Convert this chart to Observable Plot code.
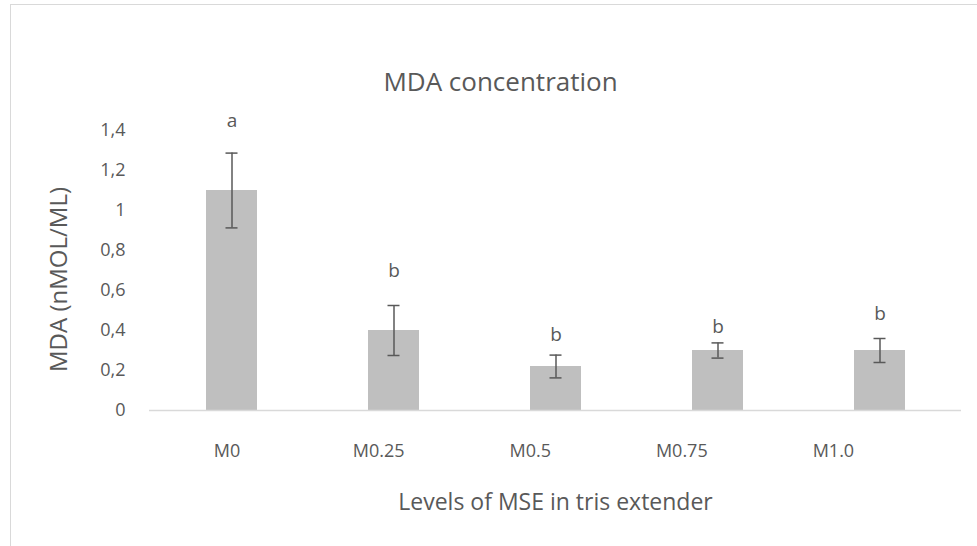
<!DOCTYPE html>
<html><head><meta charset="utf-8">
<script src="https://cdn.jsdelivr.net/npm/d3@7"></script>
<script src="https://cdn.jsdelivr.net/npm/@observablehq/plot@0.6"></script>
<style>
body{margin:0;background:#fff;}
#wrap{position:relative;width:977px;height:546px;overflow:hidden;background:#fff;}
#border{position:absolute;left:10px;top:4px;width:1000px;height:600px;border:1px solid #d9d9d9;}
#chart{position:absolute;left:0;top:0;}
</style></head><body>
<div id="wrap"><div id="border"></div><div id="chart"></div></div>
<script>
const categories = ["M0", "M0.25", "M0.5", "M0.75", "M1.0"];
const means = [1.10, 0.40, 0.22, 0.30, 0.30];
const errors = [0.187, 0.125, 0.057, 0.038, 0.060];
const letters = ["a", "b", "b", "b", "b"];
const letterY = [1.447, 0.70, 0.38, 0.42, 0.485];
const yTicks = [0, 0.2, 0.4, 0.6, 0.8, 1, 1.2, 1.4];
const titleText = "MDA concentration";
const xLabel = "Levels of MSE in tris extender";
const yLabel = "MDA (nMOL/ML)";

const rows = categories.map((c, i) => ({cat: c, mean: means[i], err: errors[i], letter: letters[i], ly: letterY[i]}));
const textColor = "#595959";

const xLabelMarks = categories.map((c, i) =>
  Plot.text([c], {x: d => d, frameAnchor: "bottom", lineAnchor: "middle", dy: 41, dx: -5 - 10.4 * i, fill: textColor, fontSize: 18})
);

const chart = Plot.plot({
  width: 977,
  height: 546,
  marginLeft: 149,
  marginRight: 16,
  marginTop: 130,
  marginBottom: 136,
  style: {fontFamily: "'Open Sans', sans-serif", fontSize: "18px", background: "transparent", color: textColor},
  x: {type: "band", domain: categories, paddingInner: 0.686, paddingOuter: 0.343, axis: null},
  y: {domain: [0, 1.4], axis: null},
  marks: [
    Plot.barY(rows, {x: "cat", y: "mean", fill: "#bfbfbf"}),
    Plot.ruleY([0], {stroke: "#d9d9d9", strokeWidth: 1.5}),
    Plot.ruleX(rows, {x: "cat", y1: d => d.mean - d.err, y2: d => d.mean + d.err, stroke: "#595959", strokeWidth: 1.5}),
    Plot.tickY(rows, {x: "cat", y: d => d.mean - d.err, stroke: "#595959", strokeWidth: 1.5, insetLeft: 19.5, insetRight: 19.5}),
    Plot.tickY(rows, {x: "cat", y: d => d.mean + d.err, stroke: "#595959", strokeWidth: 1.5, insetLeft: 19.5, insetRight: 19.5}),
    Plot.text(rows, {x: "cat", y: "ly", text: "letter", fill: textColor, fontSize: 19}),
    Plot.axisY(yTicks, {tickSize: 0, tickPadding: 24, tickFormat: d => String(d).replace(".", ","), fill: textColor, fontSize: 18, label: null}),
    ...xLabelMarks,
    Plot.text([xLabel], {text: d => d, frameAnchor: "bottom", lineAnchor: "middle", dy: 92, fill: textColor, fontSize: 23}),
    Plot.text([yLabel], {text: d => d, frameAnchor: "left", textAnchor: "middle", lineAnchor: "middle", rotate: -90, dx: -90, dy: 9, fill: textColor, fontSize: 24}),
    Plot.text([titleText], {text: d => d, frameAnchor: "top", lineAnchor: "middle", dy: -48, dx: -55, fill: textColor, fontSize: 26})
  ]
});
document.getElementById("chart").appendChild(chart);
</script>
</body></html>
